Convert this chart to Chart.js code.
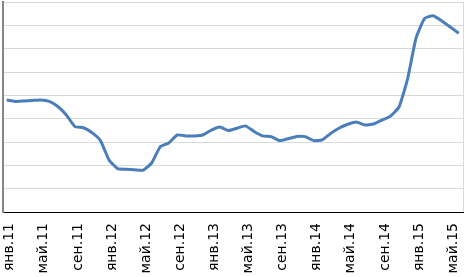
<!DOCTYPE html>
<html><head><meta charset="utf-8">
<script src="https://cdn.jsdelivr.net/npm/chart.js@4/dist/chart.umd.min.js"></script>
<style>html,body{margin:0;padding:0;background:#fff}#wrap{width:466px;height:277px;position:relative}</style>
</head><body><div id="wrap"><canvas id="c"></canvas></div>
<script>
const months = ["янв.11","фев.11","мар.11","апр.11","май.11","июн.11","июл.11","авг.11","сен.11","окт.11","ноя.11","дек.11",
"янв.12","фев.12","мар.12","апр.12","май.12","июн.12","июл.12","авг.12","сен.12","окт.12","ноя.12","дек.12",
"янв.13","фев.13","мар.13","апр.13","май.13","июн.13","июл.13","авг.13","сен.13","окт.13","ноя.13","дек.13",
"янв.14","фев.14","мар.14","апр.14","май.14","июн.14","июл.14","авг.14","сен.14","окт.14","ноя.14","дек.14",
"янв.15","фев.15","мар.15","апр.15","май.15","июн.15"];
const values = [48.0,47.4,47.6,47.8,48.0,47.4,45.2,41.6,36.6,36.1,34.0,30.6,
22.3,18.6,18.3,18.1,17.9,21.0,27.9,29.6,33.0,32.6,32.6,33.0,
35.1,36.4,34.9,35.9,36.9,34.5,32.6,32.3,30.6,31.4,32.4,32.3,
30.6,30.9,33.7,36.0,37.6,38.6,37.3,37.7,39.4,41.1,45.0,57.0,
74.6,83.0,84.1,81.9,79.3,76.6];
const yMin = 0, yMax = 90, yStep = 10, labelEvery = 4;

const frame = {id:'frame', afterDraw(chart){
  const a = chart.chartArea, ctx = chart.ctx;
  ctx.save(); ctx.strokeStyle='#d9d9d9'; ctx.lineWidth=1;
  ctx.beginPath(); ctx.moveTo(Math.round(a.right)+0.5,a.top); ctx.lineTo(Math.round(a.right)+0.5,a.bottom); ctx.stroke();
  ctx.restore();
}};

new Chart(document.getElementById('c'), {
  type:'line',
  data:{datasets:[{data: values.map((v,i)=>({x:i,y:v})), borderColor:'#4a7ebb', borderWidth:3, pointRadius:0, tension:0.15, fill:false}]},
  options:{
    responsive:true, maintainAspectRatio:false, animation:false,
    layout:{padding:{left:3,top:2,right:3,bottom:0}},
    plugins:{legend:{display:false}, tooltip:{enabled:false}},
    scales:{
      x:{type:'linear', min:-0.43, max:53.5,
        afterFit:(s)=>{s.height=65; s.paddingLeft=0; s.paddingRight=0;},
        grid:{display:false, drawTicks:false},
        border:{display:true,color:'#000',width:1},
        ticks:{stepSize:labelEvery, includeBounds:false, autoSkip:false, maxRotation:90, minRotation:90, padding:11, labelOffset:3,
          color:'#000', font:{family:'DejaVu Sans', size:14},
          callback:(v)=> (Number.isInteger(v) && v%labelEvery===0 && months[v]) ? months[v] : ''}},
      y:{min:yMin, max:yMax,
        afterFit:(s)=>{s.width=0; s.paddingTop=0; s.paddingBottom=0;},
        grid:{color:'#d9d9d9', drawTicks:false, lineWidth:1},
        border:{display:true,color:'#868686',width:2},
        ticks:{display:false, stepSize:yStep}}
    }
  },
  plugins:[frame]
});
</script></body></html>
